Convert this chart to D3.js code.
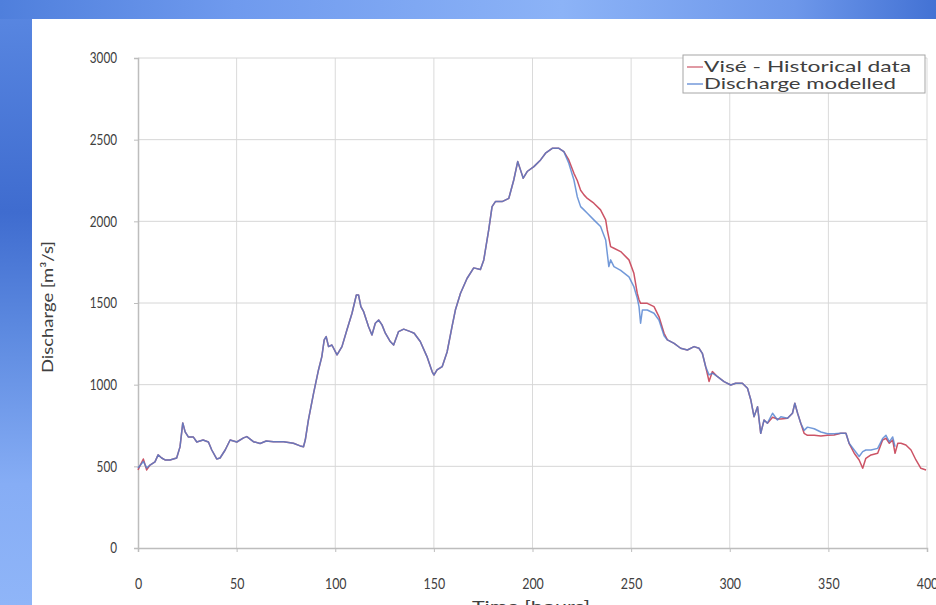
<!DOCTYPE html>
<html>
<head>
<meta charset="utf-8">
<script src="https://cdn.jsdelivr.net/npm/d3@7"></script>
<style>
  html, body { margin: 0; padding: 0; overflow: hidden; background: #5f8ee6; }
  svg { display: block; }
  text { font-family: Lato, "Open Sans", "Noto Sans", sans-serif; }
</style>
</head>
<body>
<svg id="chart" width="936" height="605"></svg>
<script>
// ---- Data ----
const timeHours = [0,2.7,4.4,6.1,8.6,10.2,12,13.7,16.2,19.6,21.3,22.7,23.9,25.5,28,29.8,33,35.7,37.4,39.9,41.6,44.2,46.7,50.1,53.5,55.2,58.5,61.9,65,68.7,73.8,78.8,82.2,83.9,84.8,86.4,89,91.5,93.2,94.4,95.4,96.6,98.3,100.9,103.4,105.9,108.5,110.7,111.8,113,114.4,116.9,118.6,120.3,122,123.7,125.4,127.9,129.6,132.1,134.7,138.1,140,143.1,146.5,149.1,150,151.6,154.2,156.7,159.2,160.9,163.5,166.8,170.2,173.6,175.3,177.8,179.5,181.2,184.6,188,190.5,192.5,193.9,195.3,197.3,200.7,204.1,206.6,210,213.4,215.9,218.4,221,222.7,224.4,226.1,227.8,231.1,234.5,237.1,237.9,238.7,239.6,241.3,244.7,248.9,251.4,253.1,254,254.8,255.7,258.2,261.6,264.1,266.7,268.4,271.8,275.1,278.5,281.9,284.4,286.1,287.8,289.5,291.2,293.8,297.1,300.5,303,306.4,309,310.7,312.3,314.1,315.7,317.4,319.1,321.7,324.2,325.9,329.3,331.8,333,334.4,336,337.7,339.4,342.8,346.2,349.6,352.9,356.3,358.9,360.5,363.1,365.6,367.4,369,371.6,375,377.5,379.2,380.9,382.6,383.8,385.2,386.8,389.3,391.9,394.4,396.9,399.5];

const viseHistorical = [478,545,478,508,527,570,551,539,539,551,619,766,711,680,680,649,661,649,600,545,551,600,661,649,674,682,651,640,655,651,651,641,625,620,661,784,947,1090,1172,1274,1294,1233,1243,1182,1233,1335,1437,1549,1549,1478,1447,1355,1304,1376,1396,1366,1315,1264,1243,1325,1340,1325,1315,1264,1172,1080,1059,1090,1110,1200,1355,1457,1560,1650,1715,1705,1764,1947,2090,2121,2121,2141,2253,2366,2315,2264,2305,2335,2376,2417,2447,2447,2427,2376,2294,2250,2190,2162,2140,2111,2070,2009,1947,1900,1845,1835,1815,1764,1682,1560,1520,1498,1498,1498,1478,1417,1315,1274,1253,1223,1212,1233,1223,1192,1110,1020,1080,1049,1019,998,1009,1009,978,906,804,865,702,784,764,800,790,790,794,825,886,825,764,702,690,690,685,690,692,702,702,641,580,539,488,549,570,580,661,672,641,661,580,641,641,631,600,539,488,478];

const dischargeModelled = [490,530,490,508,527,570,551,539,539,551,619,766,711,680,680,649,661,649,600,545,551,600,661,649,674,682,651,640,655,651,651,641,625,620,661,784,947,1090,1172,1274,1294,1233,1243,1182,1233,1335,1437,1549,1549,1478,1447,1355,1304,1376,1396,1366,1315,1264,1243,1325,1340,1325,1315,1264,1172,1080,1059,1090,1110,1200,1355,1457,1560,1650,1715,1705,1764,1947,2090,2121,2121,2141,2253,2366,2315,2264,2305,2335,2376,2417,2447,2447,2427,2356,2253,2151,2090,2070,2050,2009,1968,1886,1804,1723,1764,1723,1700,1660,1600,1530,1478,1376,1457,1457,1437,1396,1300,1274,1253,1223,1212,1233,1223,1192,1110,1060,1070,1049,1019,998,1009,1009,978,906,804,865,702,784,764,825,784,804,794,825,886,825,764,720,740,730,710,700,700,702,702,641,600,560,590,600,600,610,670,690,650,680,620,null,null,null,null,null,null,null];

const xTicks = [0,50,100,150,200,250,300,350,400];
const yTicks = [0,500,1000,1500,2000,2500,3000];
const seriesNames = ["Visé - Historical data", "Discharge modelled"];
const seriesColors = ["#cc5466", "#4f7fd0"];

// ---- Drawing ----
const svg = d3.select("#chart");
const W = 936, H = 605;

const defs = svg.append("defs");
const gTop = defs.append("linearGradient").attr("id", "gTop").attr("x1", "0").attr("x2", "1").attr("y1", "0").attr("y2", "0");
gTop.append("stop").attr("offset", "0%").attr("stop-color", "#4f7fdc");
gTop.append("stop").attr("offset", "25%").attr("stop-color", "#6f9aee");
gTop.append("stop").attr("offset", "60%").attr("stop-color", "#8cb3f7");
gTop.append("stop").attr("offset", "85%").attr("stop-color", "#6d97ea");
gTop.append("stop").attr("offset", "100%").attr("stop-color", "#4372d4");
const gLeft = defs.append("linearGradient").attr("id", "gLeft").attr("x1", "0").attr("x2", "0").attr("y1", "0").attr("y2", "1");
gLeft.append("stop").attr("offset", "0%").attr("stop-color", "#5a88e2");
gLeft.append("stop").attr("offset", "35%").attr("stop-color", "#3f6ccf");
gLeft.append("stop").attr("offset", "55%").attr("stop-color", "#5d8ae0");
gLeft.append("stop").attr("offset", "80%").attr("stop-color", "#86adf5");
gLeft.append("stop").attr("offset", "100%").attr("stop-color", "#8fb5f8");

svg.append("rect").attr("x", 0).attr("y", 0).attr("width", W).attr("height", H).attr("fill", "url(#gLeft)");
svg.append("rect").attr("x", 0).attr("y", 0).attr("width", W).attr("height", 19).attr("fill", "url(#gTop)");
svg.append("rect").attr("x", 32).attr("y", 19).attr("width", W - 32).attr("height", H - 19).attr("fill", "#ffffff");

const x = d3.scaleLinear().domain([0, 400]).range([138, 927]);
const y = d3.scaleLinear().domain([0, 3000]).range([548, 58]);

// grid
const grid = svg.append("g");
grid.selectAll(".vg").data(xTicks.slice(1)).join("line")
  .attr("x1", d => x(d)).attr("x2", d => x(d))
  .attr("y1", y(3000)).attr("y2", y(0))
  .attr("stroke", "#dadada").attr("stroke-width", 1);
grid.selectAll(".hg").data(yTicks.slice(1)).join("line")
  .attr("x1", x(0)).attr("x2", x(400))
  .attr("y1", d => y(d)).attr("y2", d => y(d))
  .attr("stroke", "#d6d6d6").attr("stroke-width", 1);

// axes
const xAxis = d3.axisBottom(x).tickValues(xTicks).tickSize(4).tickPadding(26).tickFormat(d3.format("d"));
const gx = svg.append("g").attr("transform", `translate(0,${y(0)})`).call(xAxis);
gx.select(".domain").attr("stroke", "#bdbdbd").attr("stroke-width", 1.5);
gx.selectAll(".tick line").attr("stroke", "#bdbdbd");
gx.selectAll(".tick text").attr("fill", "#404040").attr("font-size", 15)
  .attr("textLength", d => String(d).length * 7.2).attr("lengthAdjust", "spacingAndGlyphs");

const yAxis = d3.axisLeft(y).tickValues(yTicks).tickSize(4).tickPadding(17).tickFormat(d3.format("d"));
const gy = svg.append("g").attr("transform", `translate(${x(0)},0)`).call(yAxis);
gy.select(".domain").attr("stroke", "#bdbdbd").attr("stroke-width", 1.5);
gy.selectAll(".tick line").attr("stroke", "#bdbdbd");
gy.selectAll(".tick text").attr("fill", "#404040").attr("font-size", 15)
  .attr("textLength", d => String(d).length * 6.8).attr("lengthAdjust", "spacingAndGlyphs");

// axis titles
svg.append("text").attr("transform", `translate(53,${(y(0) + y(3000)) / 2 + 4}) rotate(-90)`)
  .attr("text-anchor", "middle").attr("font-size", 15).attr("fill", "#404040")
  .attr("textLength", 132).attr("lengthAdjust", "spacingAndGlyphs")
  .text("Discharge [m³/s]");
svg.append("text").attr("x", 531).attr("y", 612)
  .attr("text-anchor", "middle").attr("font-size", 15).attr("fill", "#404040")
  .attr("textLength", 118).attr("lengthAdjust", "spacingAndGlyphs")
  .text("Time [hours]");

// lines
const mkLine = vals => d3.line()
  .defined((d, i) => vals[i] !== null)
  .x((d, i) => x(timeHours[i]))
  .y((d, i) => y(vals[i]));

svg.append("path").datum(viseHistorical)
  .attr("d", mkLine(viseHistorical)(viseHistorical))
  .attr("fill", "none").attr("stroke", seriesColors[0]).attr("stroke-width", 1.5)
  .attr("stroke-linejoin", "round");
svg.append("path").datum(dischargeModelled)
  .attr("d", mkLine(dischargeModelled)(dischargeModelled))
  .attr("fill", "none").attr("stroke", seriesColors[1]).attr("stroke-width", 1.5)
  .attr("stroke-opacity", 0.8).attr("stroke-linejoin", "round");

// legend
const lg = svg.append("g").attr("transform", "translate(683,55)");
lg.append("rect").attr("x", 0).attr("y", 0).attr("width", 242).attr("height", 38)
  .attr("fill", "#ffffff").attr("stroke", "#a6a6a6").attr("stroke-width", 1);
const legendWidths = [207, 192];
seriesNames.forEach((name, i) => {
  const yy = 12 + i * 17;
  lg.append("line").attr("x1", 4).attr("x2", 20).attr("y1", yy).attr("y2", yy)
    .attr("stroke", seriesColors[i]).attr("stroke-width", 1.2);
  lg.append("text").attr("x", 21).attr("y", yy + 5)
    .attr("font-size", 15).attr("fill", "#404040")
    .attr("textLength", legendWidths[i]).attr("lengthAdjust", "spacingAndGlyphs")
    .text(name);
});
</script>
</body>
</html>
